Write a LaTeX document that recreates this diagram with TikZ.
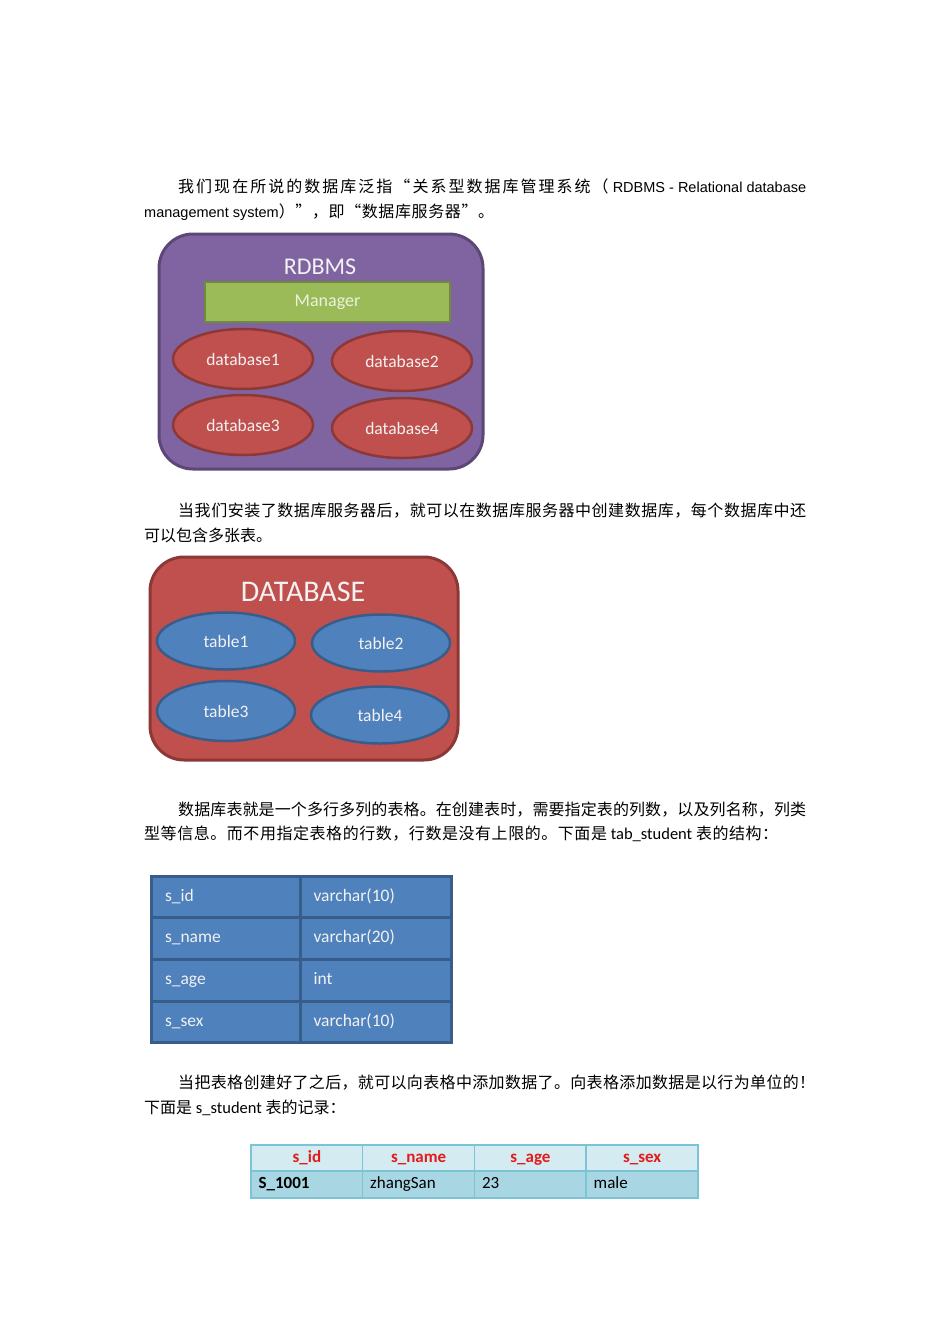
\documentclass[tikz,border=0pt]{standalone}
\usepackage{fontspec}
\usetikzlibrary{shapes.geometric}
\setmainfont{Carlito}
\newfontfamily\cjk{Noto Sans CJK SC}
\newfontfamily\arialf{Liberation Sans}
\newfontfamily\calf{Carlito}
\newcount\cjkcnt
\cjkcnt="4E00
\loop
  \XeTeXcharclass\cjkcnt=1
  \advance\cjkcnt by 1
\ifnum\cjkcnt<"A000 \repeat
\XeTeXcharclass"FF0C=3 \XeTeXcharclass"3002=3 \XeTeXcharclass"FF1A=3
\XeTeXcharclass"FF01=3 \XeTeXcharclass"FF09=3 \XeTeXcharclass"201D=3
\XeTeXcharclass"FF08=2 \XeTeXcharclass"201C=2
\def\cjkglue{\hskip 0pt plus 1fil minus 0.6pt\relax}
\XeTeXinterchartoks 1 1 = {\cjkglue}
\XeTeXinterchartoks 1 2 = {\cjkglue}
\XeTeXinterchartoks 1 3 = {\cjkglue}
\XeTeXinterchartoks 2 1 = {\cjkglue}
\XeTeXinterchartoks 3 1 = {\cjkglue}
\XeTeXinterchartoks 3 2 = {\cjkglue}
\XeTeXinterchartoks 3 3 = {\cjkglue}
\newcommand\cjkspread{\XeTeXinterchartokenstate=1\relax}
\definecolor{purpleF}{HTML}{8064A2}
\definecolor{purpleD}{HTML}{5C4776}
\definecolor{greenF}{HTML}{9BBB59}
\definecolor{greenD}{HTML}{71893F}
\definecolor{redF}{HTML}{C0504D}
\definecolor{redD}{HTML}{8C3836}
\definecolor{blueF}{HTML}{4F81BD}
\definecolor{blueD}{HTML}{385D8A}
\definecolor{hdrF}{HTML}{D5EBF2}
\definecolor{rowF}{HTML}{A8D6E2}
\definecolor{recD}{HTML}{7CC3D6}
\definecolor{hdrT}{HTML}{E31B1B}
\definecolor{lightT}{HTML}{F2F2F2}
\definecolor{mgrT}{HTML}{EAF1DD}
\tikzset{
  para/.style={anchor=base west, inner sep=0pt, font=\cjkspread\cjk\fontsize{16}{18}\selectfont},
  bigbox/.style={rectangle, rounded corners=34pt, line width=3pt, inner sep=0pt},
  oval/.style={ellipse, minimum width=140pt, minimum height=60pt, inner sep=0pt, line width=2.5pt,
    font=\calf\fontsize{17.5}{20}\selectfont, text=lightT},
  redoval/.style={oval, fill=redF, draw=redD},
  blueoval/.style={oval, fill=blueF, draw=blueD, minimum width=138pt, minimum height=57pt},
  title/.style={inner sep=0pt, text=lightT, font=\calf\fontsize{24}{28}\selectfont},
  scell/.style={rectangle, fill=blueF, draw=blueD, line width=3pt, minimum height=41.75pt,
    inner ysep=0pt, text height=12pt, text depth=3.5pt, align=left, text=lightT,
    font=\calf\fontsize{17.5}{20}\selectfont},
  scellA/.style={scell, minimum width=149pt, text width=121pt, inner xsep=14pt},
  scellB/.style={scell, minimum width=151pt, text width=124pt, inner xsep=13.5pt},
  rcell/.style={rectangle, draw=recD, line width=1.5pt, minimum width=111.75pt, inner sep=0pt,
    text height=12pt, text depth=3.5pt, font=\calf\fontsize{17}{20}\selectfont},
  rhead/.style={rcell, fill=hdrF, minimum height=26pt, text=hdrT, font=\calf\bfseries\fontsize{17}{20}\selectfont},
  rdata/.style={rcell, fill=rowF, minimum height=27pt, text width=96.75pt, inner xsep=7.5pt, align=left}
}
\begin{document}
\begin{tikzpicture}[x=1pt,y=-1pt]
\useasboundingbox (0,0) rectangle (950,1344);
\fill[white] (0,0) rectangle (950,1344);

% paragraph 1
\node[para] (p1a) at (178,192) {\hbox to 628pt{我们现在所说的数据库泛指“关系型数据库管理系统（{\arialf\fontsize{14.5}{18}\selectfont\ RDBMS - Relational database}}};
\node[para] (p1b) at (144,217) {\hbox to 350pt{{\arialf\fontsize{14.5}{18}\selectfont management system}）”，即“数据库服务器”。}};

% RDBMS diagram
\node[bigbox, fill=purpleF, draw=purpleD, minimum width=324pt, minimum height=235pt] (rdbms) at (321,351.5) {};
\node[title] (rdbmsT) at (320,267) {RDBMS};
\node[rectangle, fill=greenF, draw=greenD, line width=2.5pt, minimum width=245pt, minimum height=40pt,
  inner sep=0pt, text=mgrT, font=\calf\fontsize{18}{20}\selectfont] (mgr) at (327.5,302) {Manager};
\node[redoval] (db1) at (243,359) {database1};
\node[redoval] (db2) at (402,361) {database2};
\node[redoval] (db3) at (243,425) {database3};
\node[redoval] (db4) at (402,428) {database4};

% paragraph 2
\node[para] (p2a) at (178,516) {\hbox to 628pt{当我们安装了数据库服务器后，就可以在数据库服务器中创建数据库，每个数据库中还}};
\node[para] (p2b) at (144,541) {可以包含多张表。};

% DATABASE diagram
\node[bigbox, fill=redF, draw=redD, minimum width=308pt, minimum height=203pt] (dbase) at (304,658.5) {};
\node[title, font=\calf\fontsize{30}{32}\selectfont] (dbaseT) at (303,592) {DATABASE};
\node[blueoval] (t1) at (226,641) {table1};
\node[blueoval] (t2) at (381,643) {table2};
\node[blueoval, minimum height=60pt] (t3) at (226,711) {table3};
\node[blueoval] (t4) at (380,715) {table4};

% paragraph 3
\node[para] (p3a) at (178,815) {\hbox to 628pt{数据库表就是一个多行多列的表格。在创建表时，需要指定表的列数，以及列名称，列类}};
\node[para] (p3b) at (144,839) {\hbox to 634pt{型等信息。而不用指定表格的行数，行数是没有上限的。下面是{\calf\fontsize{16.5}{18}\selectfont\ tab\_student\ }表的结构：}};

% structure table
\node[scellA] (c11) at (225.5,896.9) {s\_id};
\node[scellB] (c12) at (375.5,896.9) {varchar(10)};
\node[scellA] (c21) at (225.5,938.6) {s\_name};
\node[scellB] (c22) at (375.5,938.6) {varchar(20)};
\node[scellA] (c31) at (225.5,980.4) {s\_age};
\node[scellB] (c32) at (375.5,980.4) {int};
\node[scellA] (c41) at (225.5,1022.1) {s\_sex};
\node[scellB] (c42) at (375.5,1022.1) {varchar(10)};

% paragraph 4
\node[para] (p4a) at (178,1088) {\hbox to 637pt{当把表格创建好了之后，就可以向表格中添加数据了。向表格添加数据是以行为单位的！}};
\node[para] (p4b) at (144,1113) {下面是{\calf\fontsize{16.5}{18}\selectfont\ s\_student\ }表的记录：};

% record table
\node[rhead] (h1) at (306.9,1158) {s\_id};
\node[rhead] (h2) at (418.6,1158) {s\_name};
\node[rhead] (h3) at (530.4,1158) {s\_age};
\node[rhead] (h4) at (642.1,1158) {s\_sex};
\node[rdata, font=\calf\bfseries\fontsize{17}{20}\selectfont] (d1) at (306.9,1184.5) {S\_1001};
\node[rdata] (d2) at (418.6,1184.5) {zhangSan};
\node[rdata] (d3) at (530.4,1184.5) {23};
\node[rdata] (d4) at (642.1,1184.5) {male};
\end{tikzpicture}
\end{document}
